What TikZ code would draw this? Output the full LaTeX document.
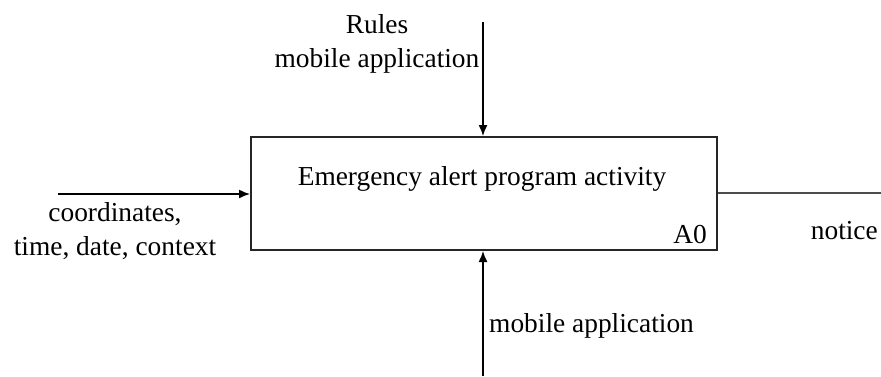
\documentclass[tikz,border=0pt]{standalone}
\usepackage{fontspec}
\setmainfont{Liberation Serif}
\usetikzlibrary{arrows.meta}
\begin{document}
\begin{tikzpicture}[x=1bp,y=-1bp,
  lbl/.style={inner sep=0pt,font=\fontsize{27.5}{34}\selectfont,align=center},
  actbox/.style={draw=black!85,line width=2bp,minimum width=466bp,minimum height=113bp,inner sep=0pt},
  flow/.style={line width=1.4bp,-{Latex[length=11bp,width=9bp]}},
  outflow/.style={line width=2bp,draw=black!70}]
\useasboundingbox (0,0) rectangle (881,376);
\node[actbox] (box) at (484,193.5) {};
\node[lbl,anchor=base] (title) at (482,185) {Emergency alert program activity};
\node[lbl,anchor=base east] (a0) at (707,243) {A0};
\coordinate (ctop) at (483,22);
\coordinate (cbot) at (483,376);
\coordinate (cleft) at (58,194);
\coordinate (cright) at (881,193);
\draw[flow] (ctop) -- (ctop |- box.north);
\draw[flow] (cbot) -- (cbot |- box.south);
\draw[flow] (cleft) -- (cleft -| box.west);
\draw[outflow] (cright -| box.east) -- (cright);
\node[lbl,anchor=base] (rules) at (377,67) {Rules\\mobile application};
\node[lbl,anchor=base] (inp) at (115,255) {coordinates,\\time, date, context};
\node[lbl,anchor=base east] (notice) at (878,239) {notice};
\node[lbl,anchor=base west] (mech) at (489,332) {mobile application};
\end{tikzpicture}
\end{document}
